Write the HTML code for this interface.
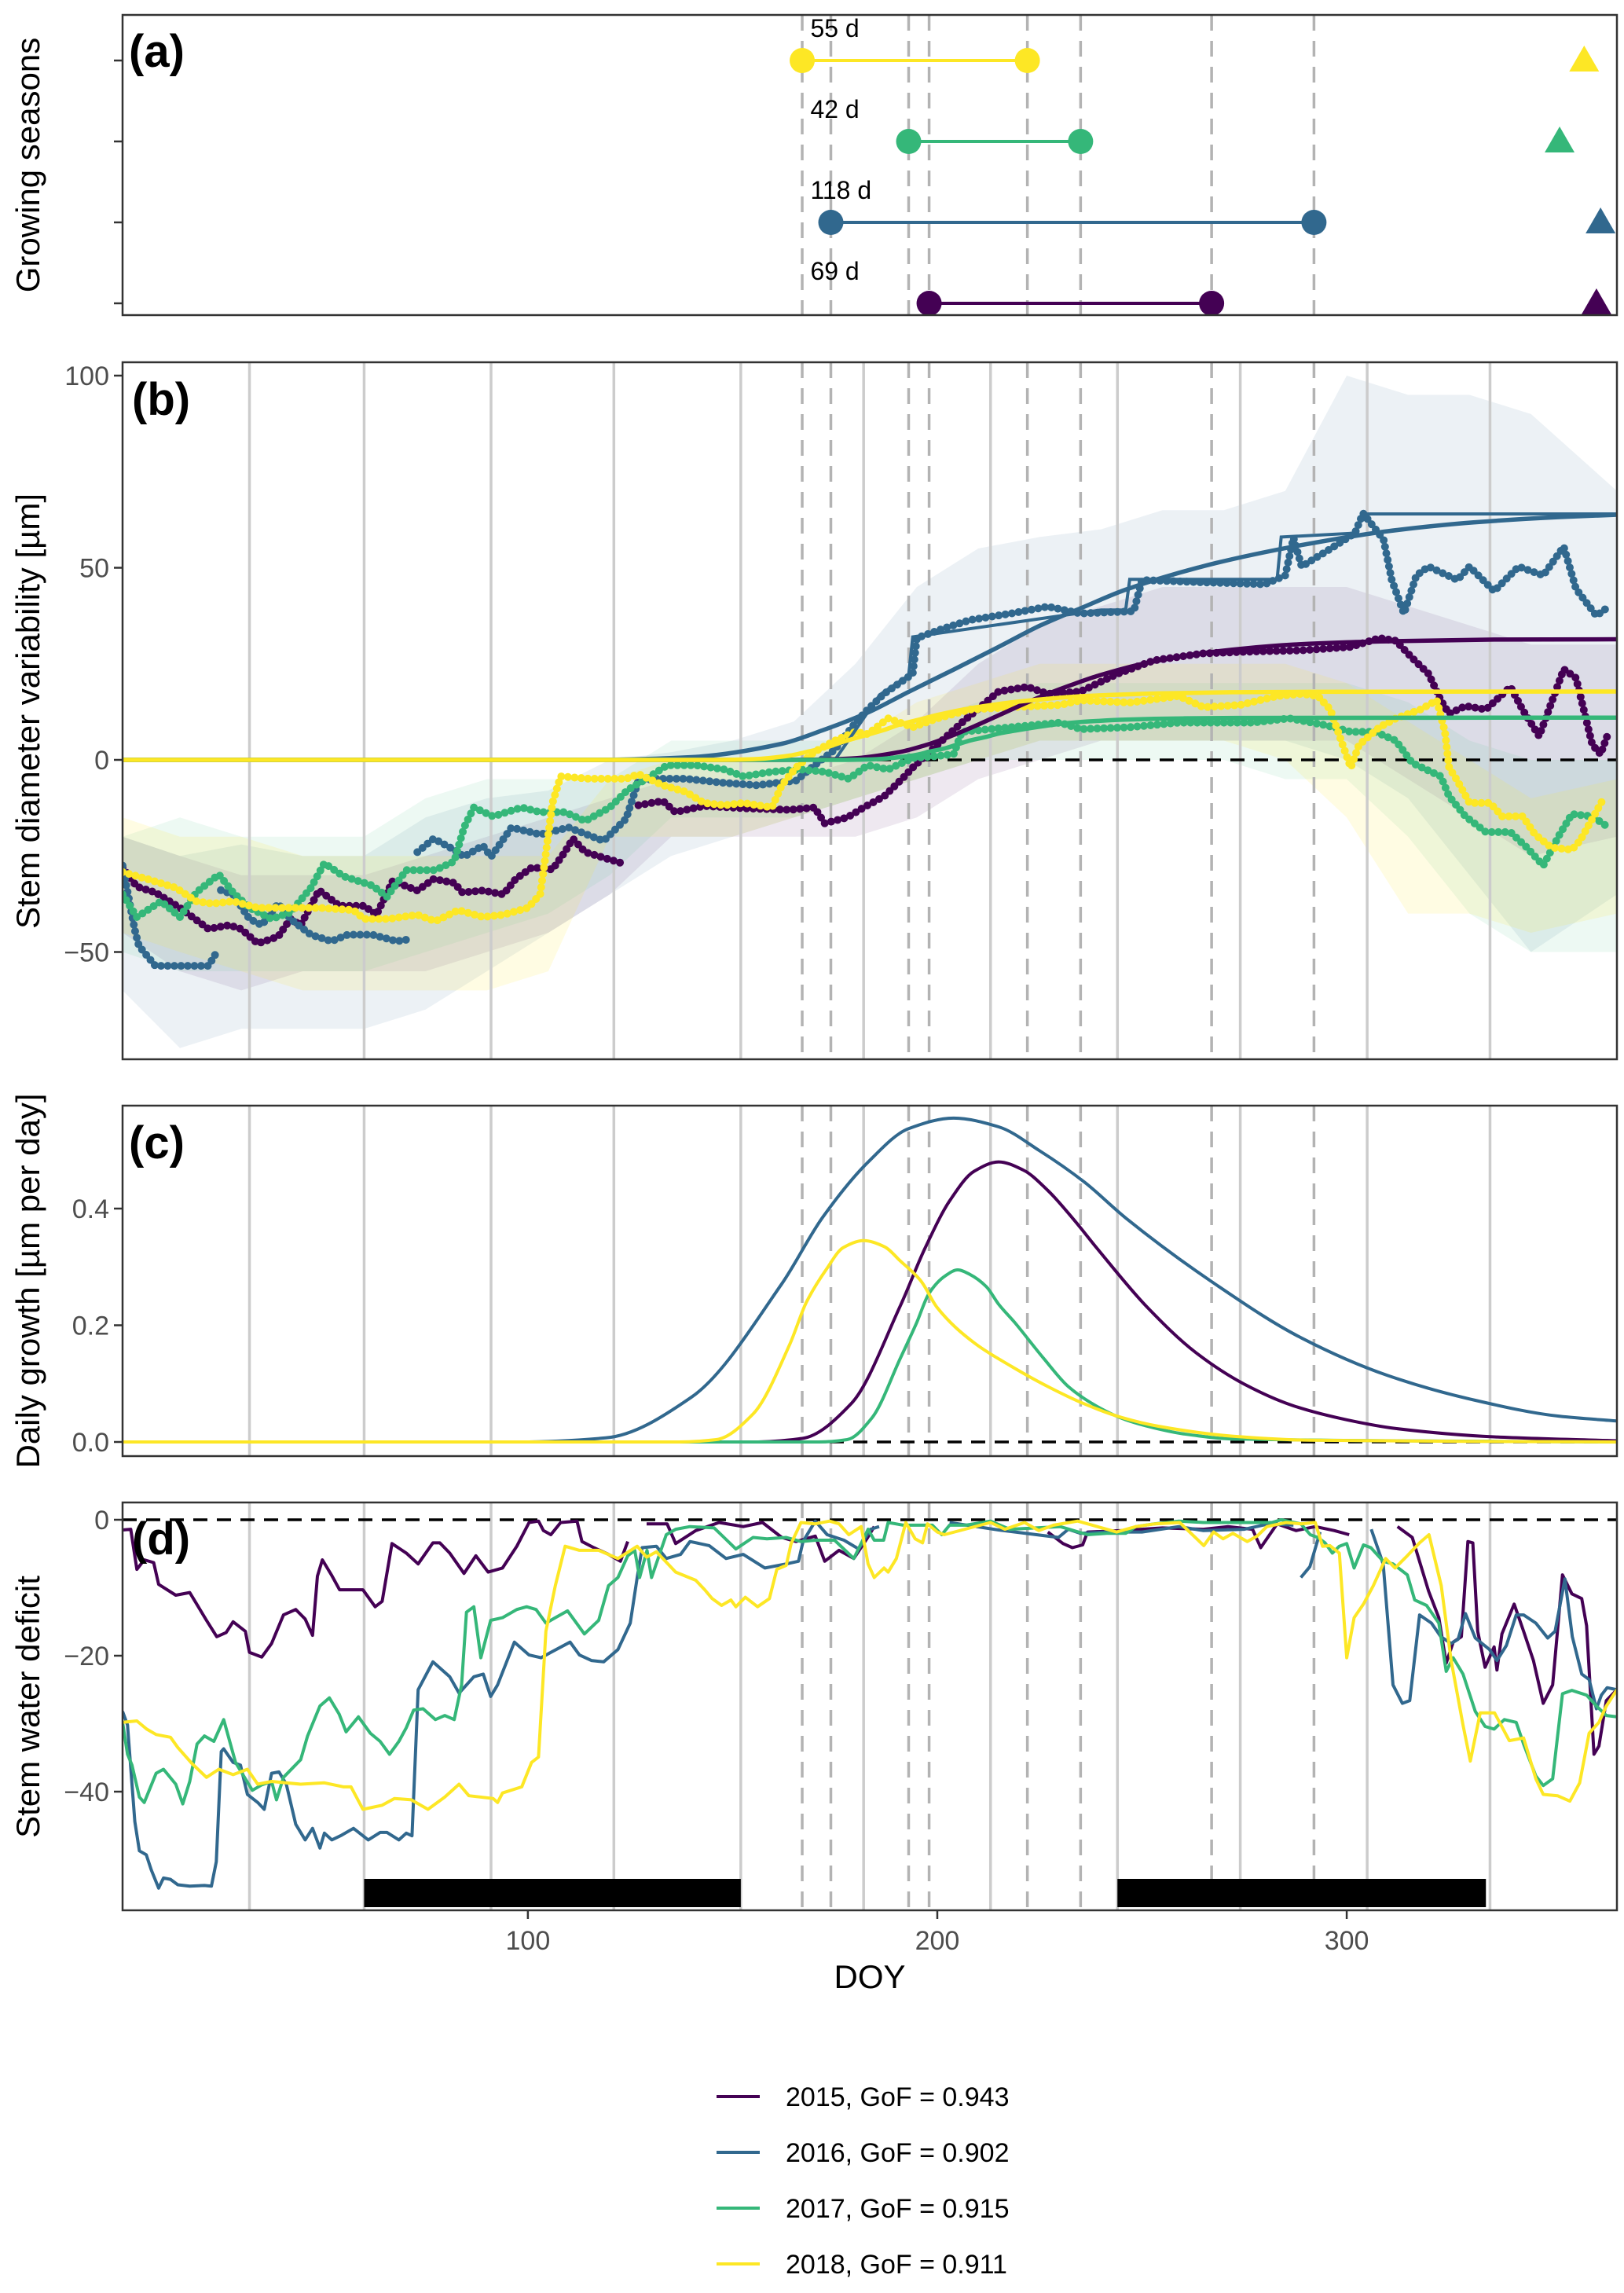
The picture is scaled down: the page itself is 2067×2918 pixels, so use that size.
<!DOCTYPE html>
<html><head><meta charset="utf-8"><style>
html,body{margin:0;padding:0;background:#fff;}
svg{display:block;font-family:"Liberation Sans",Arial,sans-serif;}
</style></head><body>
<svg id="chart" width="2067" height="2918" viewBox="0 0 2067 2918" xmlns="http://www.w3.org/2000/svg">
<defs>
<clipPath id="clipA"><rect x="156" y="19" width="1902" height="382"/></clipPath>
<clipPath id="clipB"><rect x="156" y="461" width="1902" height="887"/></clipPath>
<clipPath id="clipC"><rect x="156" y="1407" width="1902" height="446"/></clipPath>
<clipPath id="clipD"><rect x="156" y="1912" width="1902" height="519"/></clipPath>
</defs>
<rect width="2067" height="2918" fill="#fff"/>
<g id="gA" clip-path="url(#clipA)"></g>
<g id="gB" clip-path="url(#clipB)"></g>
<g id="gC" clip-path="url(#clipC)"></g>
<g id="gD" clip-path="url(#clipD)"></g>
<g fill="none" stroke="#333" stroke-width="2.5">
<rect x="156" y="19" width="1902" height="382"/>
<rect x="156" y="461" width="1902" height="887"/>
<rect x="156" y="1407" width="1902" height="446"/>
<rect x="156" y="1912" width="1902" height="519"/>
</g>
<g id="ticks" stroke="#333" stroke-width="2.5"></g>
<g id="tickLabels" font-size="34" fill="#4d4d4d"></g>
<g font-size="58" font-weight="bold" fill="#000">
<text x="164" y="85">(a)</text>
<text x="168" y="528">(b)</text>
<text x="164" y="1474">(c)</text>
<text x="168" y="1978">(d)</text>
</g>
<g font-size="42" fill="#000" text-anchor="middle">
<text transform="translate(50,210) rotate(-90)">Growing seasons</text>
<text transform="translate(50,905) rotate(-90)">Stem diameter variability [µm]</text>
<text transform="translate(50,1630) rotate(-90)">Daily growth [µm per day]</text>
<text transform="translate(50,2172) rotate(-90)">Stem water deficit</text>
<text x="1107" y="2530">DOY</text>
</g>
<g id="legend" font-size="34" fill="#000"></g>
</svg>
<script>
// ---------- data ----------
const years = ["2015","2016","2017","2018"];
const colors = ["#440154","#31688e","#35b779","#fde725"];
const gofValues = ["0.943","0.902","0.915","0.911"];
const monthDoy = [32,60,91,121,152,182,213,244,274,305,335];
const dashDoy = [167,174,193,198,222,235,267,292];
const seasonStart = [198,174,193,167];
const seasonEnd = [267,292,235,222];
const seasonLength = ["69 d","118 d","42 d","55 d"];
const triangleDoy = [361,362,352,358];
const dryStart = [60,244];
const dryEnd = [152,334];
const bTicks = [100,50,0,-50];
const cTicks = [0.0,0.2,0.4];
const dTicks = [0,-20,-40];
const xTicks = [100,200,300];

// fitted growth (panel c rate, panel b cumulative)
const fitDoy15 = [1,155,167,179,191,197,203,209,215,221,227,233,239,251,263,275,287,300,312,336,366];
const rate15 = [0,0,0.006,0.066,0.234,0.332,0.413,0.464,0.480,0.466,0.431,0.384,0.332,0.233,0.154,0.099,0.062,0.038,0.023,0.0087,0.002];
const cum15 = [0,0,0.02,0.36,2.08,3.79,6.06,8.72,11.6,14.5,17.2,19.6,21.8,25.2,27.5,29.0,30.0,30.6,30.9,31.3,31.4];
const fitDoy16 = [1,98,119,140,162,172,183,193,204,215,225,236,246,268,289,310,331,352,366];
const rate16 = [0,0,0.007,0.077,0.271,0.385,0.479,0.537,0.555,0.540,0.499,0.445,0.384,0.270,0.178,0.114,0.072,0.044,0.036];
const cum16 = [0,0,0.04,0.72,4.2,7.7,12.3,17.7,23.5,29.4,34.9,39.9,44.3,51.2,55.9,59.5,61.8,63.2,63.8];
const fitDoy17 = [1,171,178,184,191,195,198,202,205,208,212,215,219,226,232,239,246,253,260,273,366];
const rate17 = [0,0,0.004,0.041,0.144,0.205,0.255,0.285,0.295,0.287,0.266,0.236,0.204,0.143,0.095,0.061,0.038,0.024,0.014,0.005,0];
const cum17 = [0,0,0.01,0.12,0.73,1.32,2.12,3.05,4.05,5.05,6.0,6.86,7.61,8.8,9.6,10.13,10.47,10.67,10.8,10.93,11.0];
const fitDoy18 = [1,137,146,155,164,168,173,177,182,187,191,196,200,209,218,227,236,245,254,272,291,366];
const rate18 = [0,0,0.004,0.048,0.168,0.239,0.297,0.333,0.345,0.335,0.310,0.276,0.230,0.170,0.130,0.095,0.065,0.042,0.027,0.010,0.003,0];
const cum18 = [0,0,0.01,0.19,1.12,2.05,3.27,4.71,6.25,7.8,9.27,10.6,11.7,13.6,14.95,15.9,16.6,17.0,17.3,17.6,17.7,17.8];
const stepDoy16 = [175,186,193,194,240,246,247,283,284,302,304,366];
const stepVal16 = [0,17,22,32,39,39,47,47,58,59,64,64];

// observed stem diameter variability (panel b)
const obsDoy15 = [1,4.5,9,15,22,27,30,34,39,42,44.5,49,54,60,63,67,73,77,82,84,89,94,97,101,106,109,111,114,123,125,127,133,136,143,153,164,170,172.5,178,182,187,192,194,200,206,215,222,227,235,244,253,265,277,289,301,308,312,316,320,323,325,329,334,340,343,347,353,356,360,362,364];
const obsVal15 = [-28,-33,-34.5,-38.5,-44,-43,-44,-47.8,-46,-41.4,-43,-33.9,-38,-38,-40.3,-31.5,-34,-31,-32,-34.5,-34,-35,-31,-28,-28.5,-24,-20.5,-24,-26.9,null,-11.8,-10.7,-13.6,-12,-12.6,-13,-12.4,-16.5,-15,-12.4,-9.5,-4.3,-2,3.9,9.7,17.8,19,17.2,17.8,22.4,25.9,27.7,28.2,28.5,29.4,31.7,31,26.5,22.4,15.5,12,14,13.1,19,13,6.2,23.6,21.3,3.9,1.5,7.3];
const obsDoy16 = [1,4,5,9,14,22,24,24.5,25,28,32,35,39,42,47,52,56,62,68,71.5,72.5,73,77,82,84.4,89,91,96,103,110,118.5,124,127,131.4,138.5,148,156,165.5,170,175,180,183,187,194,195,201,208,218,227,235,248,250,265,280,285,287,289,296,302,304,309,311,314,317,320,327,330,336,342,348,353,356,361,364];
const obsVal16 = [-27.5,-44.3,-48.4,-53.6,-53.6,-53.6,-50,null,-33.9,-35,-41.4,-43,-37.4,-41.4,-45.5,-47.2,-45.5,-45.5,-47.2,-46.6,null,-24,-20.5,-23.4,-25.2,-22.3,-25.2,-17.6,-19.4,-17.6,-21.1,-15.3,-5.4,-4.9,-4.9,-6,-6.6,-5.4,-1.4,2.7,9.7,13.1,17.2,22.4,31.7,34,36.4,38.1,39.9,38.1,38.7,46.8,46.2,45.7,48,57.8,50.3,54.9,59,64.2,57.3,46.8,38.1,48,50.3,46.8,50.3,43.9,50.3,48,55.5,44.5,37.5,39.9];
const obsDoy17 = [1,4.5,10.4,15,19,24.5,28,32,37.4,42,47,50.3,55,62,65.6,70.3,77.4,82,84.4,86.8,91.5,98.5,103,109,114,120,124.4,129,134,141,148,152.6,159.6,166.7,172.5,178.4,183,188,194,200,204,206,218,230,235,247,259,277,286,295,301,307,312,316,323,325,329,334,340,344,348,352,355,360,364];
const obsVal17 = [-35,-40.9,-36.8,-40.9,-34.5,-29.8,-34.5,-38.5,-41.4,-39.7,-33.3,-26.9,-30.3,-32.7,-35.6,-28.7,-28.7,-26.4,-17.6,-12.4,-14.7,-12.4,-13.6,-13.6,-15.9,-12.4,-7.8,-4.9,-1.4,-1.4,-2.5,-4.3,-3.1,-2.5,-3.1,-4.9,-1.4,-2.5,0.5,1,1.5,7.3,8.5,9.7,8,8.5,9.7,9.7,10.8,9,7.3,7.3,5,-0.8,-4.3,-9.5,-14.7,-18.8,-18.8,-22.8,-27.5,-19.4,-14.1,-14.7,-17.6];
const obsDoy18 = [1,7,14,19,23,28,34,41,49,57.4,60,66,73,77.4,83,89,94,100,103,104,106,108,115,124,127,133,138.5,143,148,152.6,159.6,162,165.5,170,175,180,183,188,194,200,208,218,230,235,247,259,265,274,283,289,293,296,299,301,303,308,312,318,322,324,325,327,330,335,338,343,346,350,355,357,360,363];
const obsVal18 = [-29.2,-31,-33.3,-36.8,-37.4,-36.8,-38.5,-38.5,-38.5,-39.1,-41.4,-41.4,-40.3,-42,-39.1,-40.9,-40.3,-38.5,-35,-27.5,-11.2,-4.3,-4.9,-4.9,-3.7,-6.6,-8.3,-11.2,-11.8,-11.2,-12.4,-6.6,-2,2.1,5,7.3,6.7,10.8,8.5,10.8,13.1,13.7,14.3,15.5,14.9,16.6,13.7,14.3,16.6,17.2,16.6,13.1,3.9,-2,3.9,8.5,10.8,13.1,15.5,7.3,-2,-5.4,-11.2,-11.2,-14.7,-14.7,-19.4,-22.8,-23.4,-21,-15.3,-9.5];

// uncertainty ribbons (panel b)
const bandDoy = [1,15,30,45,60,75,90,105,120,135,150,165,180,195,210,225,240,255,270,285,300,315,330,345,366];
const bandLo15 = [-45,-55,-60,-55,-55,-55,-50,-45,-35,-20,-20,-20,-20,-15,-5,0,5,5,5,5,5,-5,-15,-25,-20];
const bandHi15 = [-20,-25,-30,-30,-30,-25,-20,-15,-10,-5,-5,-5,0,10,25,35,40,45,45,45,45,40,35,30,30];
const bandLo16 = [-60,-75,-70,-70,-70,-65,-55,-45,-35,-25,-20,-15,-10,-5,0,5,5,5,5,5,0,-10,-30,-50,-35];
const bandHi16 = [-20,-25,-22,-25,-25,-15,-10,-8,0,2,5,10,25,45,55,58,60,65,65,70,100,95,95,90,70];
const bandLo17 = [-50,-55,-55,-55,-55,-50,-45,-40,-30,-15,-15,-15,-10,-5,0,0,0,0,0,-5,-5,-20,-40,-50,-50];
const bandHi17 = [-20,-15,-20,-20,-20,-10,-5,-5,-5,5,5,5,5,10,15,20,20,20,20,20,20,15,5,0,0];
const bandLo18 = [-45,-50,-55,-60,-60,-60,-60,-55,-20,-20,-20,-15,-10,-5,0,5,5,5,5,0,-15,-40,-40,-45,-40];
const bandHi18 = [-15,-20,-20,-25,-25,-25,-25,-25,-5,0,0,0,5,15,20,25,25,25,25,25,20,10,0,-10,-5];

// stem water deficit (panel d)
const swdDoy15 = [1,3,4.5,6.3,8.6,9.8,14,17.4,21.5,24,26.3,28,31,32,35,37.4,40.3,43.3,45.6,47.4,48.6,49.8,52,54,56.2,59.7,62.7,64.4,66.8,70.3,73.2,76.8,78.5,80.9,84.4,87.3,90.3,93.8,97.3,100.3,102.6,103.8,105.6,108,112,113.2,116.1,119.7,122.6,124.4,126,129,134,136.1,141,146.7,152.6,157.3,162,165.5,170.2,172.5,176,179.6,183,184.6,186,226,227,230.7,233,235.5,236.7,245,255,265,271,277,279,283,287.6,292.3,297,300.6,302,312.4,316,320,322.5,324.3,326,328,329.6,330.8,332,333.8,336,336.7,337.9,340.9,343.2,345.6,348,350.3,352.7,355,357.4,358.6,360.4,361.6,363.4,366];
const swdVal15 = [-1.5,-1.4,-7.3,-5.9,-6.3,-9.5,-11.1,-10.7,-14.8,-17.2,-16.6,-15,-16.4,-19.5,-20.2,-18.2,-14,-13.2,-14.6,-17,-8.3,-5.9,-8.1,-10.3,-10.3,-10.3,-12.8,-12,-3.5,-4.9,-6.5,-3.4,-3.4,-4.9,-7.9,-5.3,-7.7,-7.1,-3.9,-0.4,-0.2,-1.6,-2.2,-0.4,-0.2,-3.2,-4.1,-5.1,-6.1,-3.2,null,-0.6,-0.6,-3.5,-1.6,-0.4,-1,-0.4,-2.6,-3.2,-2.4,-6.1,-4.5,-5.7,-2.6,-1,null,null,-1.8,-3.5,-4.1,-3.7,-1.8,-1.6,-1.2,-1.4,-1,-1.4,-4.1,-0.6,-1.6,-1,-1.6,-2.2,null,-1,-2.6,-10.5,-14.4,-21.1,-18,-17.2,-3.2,-3.4,-16.4,-21.7,-18.7,-22.1,-16.8,-12.4,-16.4,-20.7,-27,-24.3,-8.1,-10.9,-11.6,-15.6,-34.5,-33.3,-26.6,-25];
const swdDoy16 = [1,2.2,4,5.1,6.8,8,9.8,11,12.7,14.5,17.4,21,22.7,23.9,25.1,25.7,28,29.8,31.5,34,35.6,37.4,39.2,41,43.3,45.6,47.4,49.2,50.3,52.1,54.5,57.4,61,63.9,65.6,68.5,70.3,71.7,73.2,76.8,80.9,83.2,86.8,89.1,90.9,92.6,96.7,100.3,103.2,105.6,110.3,112.6,115.5,118.5,122,125,126.7,127.9,131.4,133.8,137.3,139.6,144.3,148.4,152.6,157.9,163.1,166.1,167.2,170.2,173.1,177.2,180.8,183.7,185.8,188,203,215,229.6,232,235,241,250,259,265,275,281,287,288.5,288.8,291,293.5,294.5,306,308.9,311.3,313.6,315.4,317.8,320.7,323,325.5,327.2,329,331.4,334.9,336.7,339,341.4,343.2,346.2,349.1,350.9,353.3,355.1,357.4,359.2,361,362.2,363.6,366];
const swdVal16 = [-28.2,-30.2,-44.4,-48.7,-49.3,-51.5,-54.2,-52.7,-52.9,-53.7,-53.9,-53.8,-53.9,-50.3,-34.1,-33.7,-35.7,-36.1,-40.4,-41.6,-42.6,-37.3,-37.1,-38.9,-44.8,-47.1,-45.4,-48.3,-46.1,-47.1,-46.4,-45.4,-47.1,-46,-46,-47.1,-46.1,-46.5,-25,-20.9,-23.1,-25.5,-23.1,-22.7,-26,-24.3,-18,-19.9,-20.3,-19.5,-18,-19.9,-20.7,-20.9,-19.1,-15.2,-8.5,-4.1,-3.9,-5.7,-5.1,-3.2,-3.8,-5.7,-5.1,-7.1,-6.5,-6.1,-3.2,-0.2,-2.2,-3,-4.3,-1.4,-1,null,-0.4,-1.5,-2.6,-1.4,-2,-1.8,-1.8,-1,-1.6,-1.4,-0.6,-0.8,null,-8.5,-6.9,-1.8,null,-1.4,-6.5,-24.3,-27,-26.6,-14,-15.2,-17.2,-18.2,-17.6,-13.8,-17.4,-19.1,-20.7,-18.5,-14,-14,-15.2,-17.4,-16.4,-8.7,-17.2,-22.7,-23.5,-27.8,-25.8,-24.7,-25];
const swdDoy17 = [1,2.2,3.3,5.1,6.3,9.2,11,14,15.7,17.4,19.2,21,23.3,25.7,28.6,31,32.7,35,37.4,38.6,40.3,44.5,46.2,49.2,51.5,53.9,55.6,58.6,61.5,63.9,66.2,68.5,70.3,72.1,74.4,77.4,79.7,82,83.8,85,86.8,88.5,90.9,93.8,97.3,99.7,102,104.4,106.7,109.7,110.9,113.8,117.3,119.7,122,124.4,126.1,127.3,129.1,130.2,133.8,136.1,139.6,145.5,147.9,150.8,155,158.4,163.1,166.7,170.2,174.9,179.6,183.1,184.6,186.9,188,191.7,198.8,201.1,203,207,213,217.7,230,236.7,241.4,246,248.5,253,259,265,281.7,284,288.8,291.1,292.9,294.7,296.5,298.2,300,301.8,304.1,305.9,308.9,311.3,314.8,316.6,319.5,322.5,324.3,326,328.4,331.4,333.8,336,338.5,341.4,343.2,346.2,348,350.3,352.7,355,358.6,361,363.4,366];
const swdVal17 = [-29.8,-34.5,-36.1,-40.8,-41.6,-37.3,-36.7,-38.9,-41.8,-38.5,-33,-31.8,-32.6,-29.4,-35.7,-38.1,-39.8,-39,-38.5,-41.2,-37.9,-35.3,-31.8,-27.4,-26.2,-28.6,-31.2,-29,-31.4,-32.6,-34.5,-32.6,-30.6,-28,-27.8,-29.4,-28.8,-29.4,-24.3,-13.6,-12.8,-20.3,-14.8,-14.4,-13.2,-12.8,-13.2,-15.2,-14.4,-13.4,-14.4,-16.8,-14.8,-9.7,-8.5,-5.3,-4.5,-8.5,-4.5,-8.5,-2.2,-1.4,-1,-1.2,-2.6,-4.3,-2.6,-2.8,-2.6,-3.2,-3,-3,-5.7,-1.4,-3,-3,-0.4,-0.8,-0.8,-2.2,-0.8,-0.8,-0.2,-1.4,-1,-2.2,-2,-2,-1,-0.6,-0.2,-0.4,-0.4,0,-0.6,-2.2,-2.6,-3.4,-4.9,-3.9,-3.5,-7.1,-3.7,-4.1,-6.1,-6.5,-8.1,-11.8,-12.6,-15.2,-22.3,-20.3,-22.7,-28.2,-30.4,-30.8,-29.4,-29.8,-33,-37.7,-39.1,-38.1,-25.6,-25.1,-25.8,-27.4,-28.8,-29];
const swdDoy18 = [1,4.5,6.9,9.2,12.7,14.5,18,21.5,24.5,28,31.5,34,37.4,44.5,50.3,55,56.8,59.7,64.4,67.4,71.5,75.6,79.7,83.2,85.6,91.5,92.6,93.8,98.5,100.9,102.6,104.4,106.7,109.1,112.6,117.3,122,126.7,129,131.4,136.1,141,143.2,145,147.3,149.6,150.8,153.1,156.1,159,160.8,163.1,164.3,166.7,170.2,173.7,176,178.4,181.4,183.1,184.6,187,188,190,192.3,194.6,196.4,197.6,200,201.7,213,216.5,221.3,224.8,228.4,234.3,243.8,248.5,253.2,259.2,265.1,267.5,269.8,272.2,275.7,278.1,280.5,285.2,288.8,292.3,294.1,295.9,298.2,300,301.8,304.1,306.5,309.5,311.8,314.8,317.8,320.1,323.1,325.5,328.4,330.2,332.6,336.1,339.7,343.2,346.2,348,351.5,354.5,356.9,359.2,361.6,363.4,366];
const swdVal18 = [-29.8,-29.6,-30.8,-31.6,-32,-33.5,-35.9,-37.9,-36.7,-37.5,-36.7,-38.9,-38.5,-38.9,-38.7,-39.3,-39.3,-42.6,-42,-41,-41.2,-42.6,-40.8,-38.9,-40.6,-41,-41.6,-40.2,-39.3,-35.7,-34.9,-16.4,-9.7,-3.9,-4.5,-4.5,-5.7,-3.9,-5.5,-4.7,-7.7,-8.9,-10.3,-11.6,-12.6,-11.8,-12.8,-11.4,-12.8,-11.6,-7.3,-6.7,-3.5,-0.4,-0.6,-0.2,-0.6,-2.2,-1,-6.5,-8.5,-7.1,-7.7,-5.7,-0.4,-2.8,-3.4,-0.6,-1.8,-2.2,-0.4,-1.4,-0.4,-1.6,-0.8,-0.2,-1.8,-1,-0.6,-0.4,-3.8,-1.8,-2.8,-2,-3.2,-2.4,-1,-0.4,-0.6,-0.4,-3.9,-3.8,-4.9,-20.3,-14.4,-12.4,-9.7,-5.7,-7.1,-5.3,-3.4,-2.2,-9.7,-20.7,-30.2,-35.5,-28.4,-28.4,-32.5,-32.1,-38.1,-40.4,-40.6,-41.4,-38.7,-31.4,-29.8,-27.4,-25];

// ---------- scales ----------
const X0 = 156, X1 = 2058, D0 = 1, D1 = 366;
function xS(d){ return X0 + (d - D0) * (X1 - X0) / (D1 - D0); }
function yA(i){ return 386 - i * 103; }
function yB(v){ return 967 - v * 4.89; }
function yC(v){ return 1835 - v * 742.5; }
function yD(v){ return 1934 - v * 8.65; }

const NS = "http://www.w3.org/2000/svg";
function mk(tag, parent, attrs){
  const e = document.createElementNS(NS, tag);
  for (const k in attrs) e.setAttribute(k, attrs[k]);
  parent.appendChild(e);
  return e;
}
function linePath(xs, ys, sy){
  let d = "", pen = false;
  for (let i = 0; i < xs.length; i++){
    if (ys[i] === null || ys[i] === undefined){ pen = false; continue; }
    d += (pen ? "L" : "M") + xS(xs[i]).toFixed(1) + " " + sy(ys[i]).toFixed(1);
    pen = true;
  }
  return d;
}
// monotone cubic (Fritsch-Carlson) smooth path through the data points
function smoothPath(xs, ys, sy){
  const n = xs.length;
  const px = xs.map(xS), py = ys.map(sy);
  const dx = [], m = [], t = new Array(n);
  for (let i = 0; i < n - 1; i++){ dx.push(px[i+1]-px[i]); m.push((py[i+1]-py[i])/(px[i+1]-px[i])); }
  t[0] = m[0]; t[n-1] = m[n-2];
  for (let i = 1; i < n - 1; i++){
    if (m[i-1] * m[i] <= 0) t[i] = 0;
    else { const w1 = 2*dx[i] + dx[i-1], w2 = dx[i] + 2*dx[i-1]; t[i] = (w1 + w2) / (w1 / m[i-1] + w2 / m[i]); }
  }
  let d = "M" + px[0].toFixed(1) + " " + py[0].toFixed(1);
  for (let i = 0; i < n - 1; i++){
    const h = dx[i] / 3;
    d += "C" + (px[i]+h).toFixed(1) + " " + (py[i]+t[i]*h).toFixed(1) + " " + (px[i+1]-h).toFixed(1) + " " + (py[i+1]-t[i+1]*h).toFixed(1) + " " + px[i+1].toFixed(1) + " " + py[i+1].toFixed(1);
  }
  return d;
}

const gA = document.getElementById("gA");
const gB = document.getElementById("gB");
const gC = document.getElementById("gC");
const gD = document.getElementById("gD");

const fitDoy = [fitDoy15, fitDoy16, fitDoy17, fitDoy18];
const rates = [rate15, rate16, rate17, rate18];
const cums = [cum15, cum16, cum17, cum18];
const obsDoy = [obsDoy15, obsDoy16, obsDoy17, obsDoy18];
const obsVal = [obsVal15, obsVal16, obsVal17, obsVal18];
const bandLo = [bandLo15, bandLo16, bandLo17, bandLo18];
const bandHi = [bandHi15, bandHi16, bandHi17, bandHi18];
const swdDoy = [swdDoy15, swdDoy16, swdDoy17, swdDoy18];
const swdVal = [swdVal15, swdVal16, swdVal17, swdVal18];

// ribbons in b
for (let s = 0; s < 4; s++){
  let d = "";
  for (let i = 0; i < bandDoy.length; i++) d += (i ? "L" : "M") + xS(bandDoy[i]).toFixed(1) + " " + yB(bandHi[s][i]).toFixed(1);
  for (let i = bandDoy.length - 1; i >= 0; i--) d += "L" + xS(bandDoy[i]).toFixed(1) + " " + yB(bandLo[s][i]).toFixed(1);
  const p = mk("path", gB, {d: d + "Z", fill: colors[s], "fill-opacity": s === 3 ? 0.13 : 0.09, stroke: "none"});
  
  
}

// month grid lines (b, c, d)
[[gB,461,1348],[gC,1407,1853],[gD,1912,2431]].forEach(([g,t,b]) => {
  monthDoy.forEach(m => {
    const l = mk("line", g, {x1: xS(m), x2: xS(m), y1: t, y2: b, stroke: "#cccccc", "stroke-width": 3.5});
    
    
  });
});
// season dashed lines (a, b, c, d)
[[gA,19,401],[gB,461,1348],[gC,1407,1853],[gD,1912,2431]].forEach(([g,t,b]) => {
  dashDoy.forEach(m => {
    const l = mk("line", g, {x1: xS(m), x2: xS(m), y1: t, y2: b, stroke: "#b3b3b3", "stroke-width": 3.5, "stroke-dasharray": "20 13"});
    
    
  });
});

// panel a: season segments
for (let s = 0; s < 4; s++){
  const y = yA(s);
  const seg = mk("line", gA, {x1: xS(seasonStart[s]), x2: xS(seasonEnd[s]), y1: y, y2: y, stroke: colors[s], "stroke-width": 4});
  
  
  [seasonStart[s], seasonEnd[s]].forEach((d, k) => {
    const c = mk("circle", gA, {cx: xS(d), cy: y, r: 16, fill: colors[s]});
    
    
  });
  const t = mk("text", gA, {x: xS(169), y: y - 30, "font-size": 32, fill: "#000"});
  t.textContent = seasonLength[s];
  
  
  const tx = xS(triangleDoy[s]);
  const tri = mk("path", gA, {d: `M${tx-19} ${y+14}L${tx+19} ${y+14}L${tx} ${y-19}Z`, fill: colors[s]});
  
  
}

// zero lines
[[gB,yB(0)],[gC,yC(0)],[gD,yD(0)]].forEach(([g,y]) => {
  const l = mk("line", g, {x1: X0, x2: X1, y1: y, y2: y, stroke: "#000", "stroke-width": 3.5, "stroke-dasharray": "18 12"});
  
  
});

// panel b observed dots
for (let s = 0; s < 4; s++){
  const p = mk("path", gB, {d: linePath(obsDoy[s], obsVal[s], yB), fill: "none", stroke: colors[s], "stroke-width": 10, "stroke-linecap": "round", "stroke-dasharray": "0 8.5"});
  
  
}
// blue step line
const stp = mk("path", gB, {d: linePath(stepDoy16, stepVal16, yB), fill: "none", stroke: colors[1], "stroke-width": 4});


// fitted cumulative curves
for (let s = 0; s < 4; s++){
  const p = mk("path", gB, {d: smoothPath(fitDoy[s], cums[s], yB), fill: "none", stroke: colors[s], "stroke-width": 5.5, "stroke-linejoin": "round"});
  
  
}
// panel c daily growth
for (let s = 0; s < 4; s++){
  const p = mk("path", gC, {d: smoothPath(fitDoy[s], rates[s], yC), fill: "none", stroke: colors[s], "stroke-width": 4, "stroke-linejoin": "round"});
  
  
}
// panel d stem water deficit
for (let s = 0; s < 4; s++){
  const p = mk("path", gD, {d: linePath(swdDoy[s], swdVal[s], yD), fill: "none", stroke: colors[s], "stroke-width": 4, "stroke-linejoin": "round"});
  
  
}
// dry period bars
for (let i = 0; i < dryStart.length; i++){
  const r = mk("rect", gD, {x: xS(dryStart[i]), y: 2391, width: xS(dryEnd[i]) - xS(dryStart[i]), height: 36, fill: "#000"});
  
  
}

// ticks + labels
const ticksG = document.getElementById("ticks");
const labG = document.getElementById("tickLabels");
function yTick(y, label){
  const l = mk("line", ticksG, {x1: 145, x2: 156, y1: y, y2: y});
  
  
  if (label !== null){
    const t = mk("text", labG, {x: 139, y: y + 12, "text-anchor": "end"});
    t.textContent = label;
    
    
  }
}
for (let s = 0; s < 4; s++) yTick(yA(s), null);
bTicks.forEach(v => yTick(yB(v), v < 0 ? "\u2212" + Math.abs(v) : String(v)));
cTicks.forEach(v => yTick(yC(v), v.toFixed(1)));
dTicks.forEach(v => yTick(yD(v), v < 0 ? "\u2212" + Math.abs(v) : String(v)));
xTicks.forEach(v => {
  const l = mk("line", ticksG, {x1: xS(v), x2: xS(v), y1: 2431, y2: 2442});
  
  
  const t = mk("text", labG, {x: xS(v), y: 2481, "text-anchor": "middle"});
  t.textContent = String(v);
  
  
});

// legend
const legG = document.getElementById("legend");
for (let s = 0; s < 4; s++){
  const y = 2668 + s * 71;
  const l = mk("line", legG, {x1: 912, x2: 967, y1: y, y2: y, stroke: colors[s], "stroke-width": 4});
  
  
  const t = mk("text", legG, {x: 1000, y: y + 12});
  t.textContent = years[s] + ", GoF = " + gofValues[s];
  
  
}
</script>
</body></html>
